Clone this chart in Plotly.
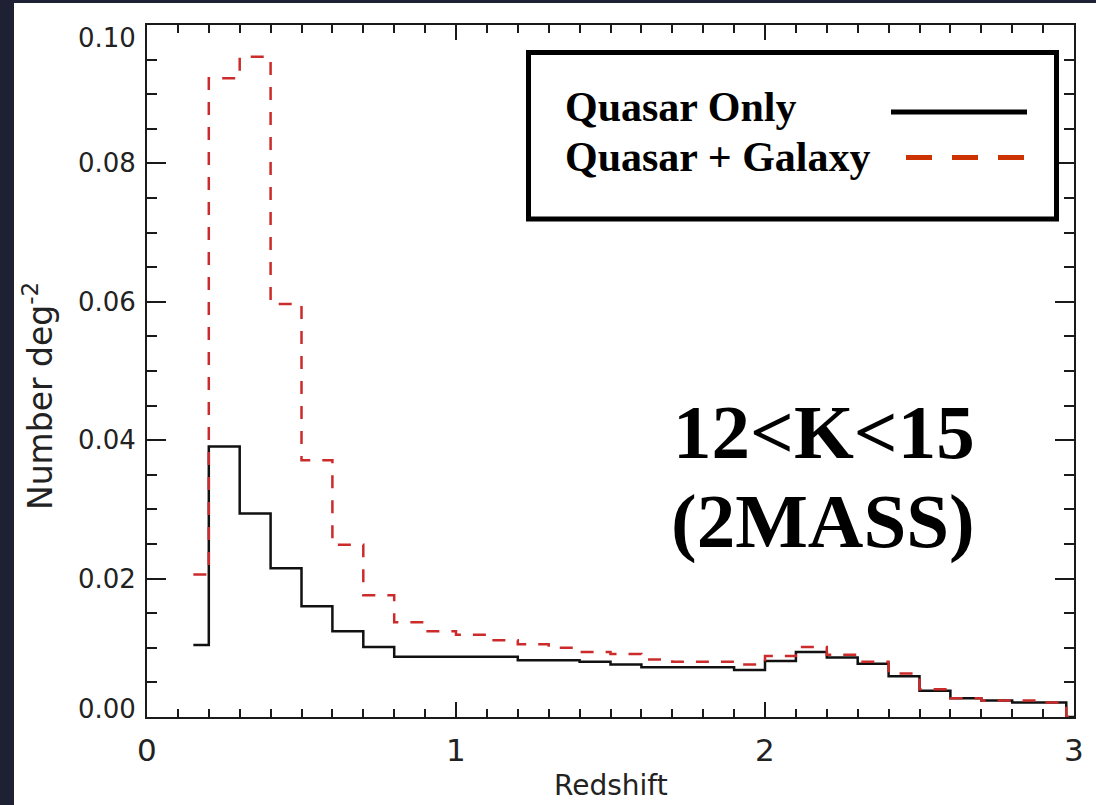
import plotly.graph_objects as go

# Redshift bin centres (bins 0.1 wide); histogram closes at z = 3
z = [0.15, 0.25, 0.35, 0.45, 0.55, 0.65, 0.75, 0.85, 0.95, 1.05,
     1.15, 1.25, 1.35, 1.45, 1.55, 1.65, 1.75, 1.85, 1.95, 2.05,
     2.15, 2.25, 2.35, 2.45, 2.55, 2.65, 2.75, 2.85, 2.95, 3.00]

# Surface density (number per square degree)
quasar_only = [0.0104, 0.0391, 0.0294, 0.0215, 0.0160, 0.0124, 0.0101, 0.0087, 0.0087, 0.0087,
               0.0087, 0.0082, 0.0082, 0.0080, 0.0076, 0.0072, 0.0072, 0.0072, 0.0068, 0.0081,
               0.0094, 0.0086, 0.0077, 0.0059, 0.0038, 0.0027, 0.0024, 0.0021, 0.0021, 0.0]

quasar_galaxy = [0.0206, 0.0923, 0.0954, 0.0597, 0.0371, 0.0249, 0.0176, 0.0137, 0.0124, 0.0119,
                 0.0111, 0.0105, 0.0100, 0.0094, 0.0091, 0.0083, 0.0080, 0.0080, 0.0076, 0.0088,
                 0.0101, 0.0090, 0.0080, 0.0063, 0.0040, 0.0027, 0.0024, 0.0024, 0.0021, 0.0]

series_names = ["Quasar Only", "Quasar + Galaxy"]
x_tick_vals = [0, 1, 2, 3]
x_tick_text = ["0", "1", "2", "3"]
y_tick_vals = [0.00, 0.02, 0.04, 0.06, 0.08, 0.10]
y_tick_text = ["0.00", "0.02", "0.04", "0.06", "0.08", "0.10"]
panel_text = ["12&lt;K&lt;15", "(2MASS)"]

# Page geometry (pixels)
W_PAGE, H_PAGE = 1096, 805
L, R, T, B = 147, 22, 25, 88
PW = W_PAGE - L - R
PH = H_PAGE - T - B


def px_x(p):
    return (p - L) / PW


def px_y(p):
    return (H_PAGE - B - p) / PH


AX = "#1a1a1a"
TICK_FONT = "DejaVu Sans"
SERIF = "Liberation Serif"
DARK = "#1e2133"

fig = go.Figure()

fig.add_trace(go.Scatter(
    x=z, y=quasar_only, mode="lines", name=series_names[0],
    line=dict(shape="hvh", color="#111111", width=2.5),
    showlegend=False, hoverinfo="skip",
))
fig.add_trace(go.Scatter(
    x=z, y=quasar_galaxy, mode="lines", name=series_names[1],
    line=dict(shape="hvh", color="#cc2b2b", width=2.5, dash="13px,12px"),
    showlegend=False, hoverinfo="skip",
))

fig.update_xaxes(
    range=[0, 3], showline=True, linecolor=AX, linewidth=2, mirror="ticks",
    ticks="inside", ticklen=15, tickwidth=2, tickcolor=AX,
    tickvals=x_tick_vals, showticklabels=False,
    minor=dict(dtick=0.1, ticks="inside", ticklen=8, tickwidth=2, tickcolor=AX),
    showgrid=False, zeroline=False,
)
fig.update_yaxes(
    range=[0, 0.10], showline=True, linecolor=AX, linewidth=2, mirror="ticks",
    ticks="inside", ticklen=19, tickwidth=2, tickcolor=AX,
    tickvals=y_tick_vals, showticklabels=False,
    minor=dict(dtick=0.005, ticks="inside", ticklen=10, tickwidth=2, tickcolor=AX),
    showgrid=False, zeroline=False,
)

annotations = []

# x tick labels
for v, t in zip(x_tick_vals, x_tick_text):
    annotations.append(dict(
        x=v, xref="x", y=px_y(750), yref="paper", text=t, showarrow=False,
        xanchor="center", yanchor="middle",
        font=dict(family=TICK_FONT, size=31, color="#222222"),
    ))

# y tick labels (end labels nudged inward)
for v, t in zip(y_tick_vals, y_tick_text):
    shift = 0
    if v == y_tick_vals[-1]:
        shift = -13
    elif v == y_tick_vals[0]:
        shift = 8
    annotations.append(dict(
        x=px_x(138), xref="paper", y=v, yref="y", text=t, showarrow=False,
        xanchor="right", yanchor="middle", yshift=shift,
        font=dict(family=TICK_FONT, size=26, color="#222222"),
    ))

# Axis titles
annotations.append(dict(
    x=px_x(611), xref="paper", y=px_y(785), yref="paper", text="Redshift",
    showarrow=False, xanchor="center", yanchor="middle",
    font=dict(family=TICK_FONT, size=28, color="#222222"),
))
annotations.append(dict(
    x=px_x(38), xref="paper", y=px_y(396), yref="paper",
    text="Number deg<sup>-2</sup>", textangle=-90,
    showarrow=False, xanchor="center", yanchor="middle",
    font=dict(family=TICK_FONT, size=33, color="#222222"),
))

# Legend entries
annotations.append(dict(
    x=px_x(563), xref="paper", y=px_y(107), yref="paper", text=series_names[0],
    showarrow=False, xanchor="left", yanchor="middle",
    font=dict(family=SERIF, size=42, color="black", weight="bold"),
))
annotations.append(dict(
    x=px_x(563), xref="paper", y=px_y(157), yref="paper", text=series_names[1],
    showarrow=False, xanchor="left", yanchor="middle",
    font=dict(family=SERIF, size=42, color="black", weight="bold"),
))

# Panel label
annotations.append(dict(
    x=px_x(824), xref="paper", y=px_y(432), yref="paper", text=panel_text[0],
    showarrow=False, xanchor="center", yanchor="middle",
    font=dict(family=SERIF, size=77, color="black", weight="bold"),
))
annotations.append(dict(
    x=px_x(823), xref="paper", y=px_y(521), yref="paper", text=panel_text[1],
    showarrow=False, xanchor="center", yanchor="middle",
    font=dict(family=SERIF, size=77, color="black", weight="bold"),
))

shapes = [
    # legend frame
    dict(type="rect", xref="paper", yref="paper",
         x0=px_x(528.5), x1=px_x(1056.5), y0=px_y(219), y1=px_y(52.5),
         line=dict(color="black", width=5), fillcolor="white", layer="above"),
    # legend samples
    dict(type="line", xref="paper", yref="paper",
         x0=px_x(891), x1=px_x(1027), y0=px_y(112), y1=px_y(112),
         line=dict(color="black", width=5)),
    dict(type="line", xref="paper", yref="paper",
         x0=px_x(906), x1=px_x(1027), y0=px_y(157.5), y1=px_y(157.5),
         line=dict(color="#cc3300", width=5, dash="26px,20px")),
    # dark page edges
    dict(type="rect", xref="paper", yref="paper",
         x0=px_x(-5), x1=px_x(14), y0=px_y(H_PAGE + 5), y1=px_y(-5),
         line=dict(width=0), fillcolor=DARK, layer="above"),
    dict(type="rect", xref="paper", yref="paper",
         x0=px_x(-5), x1=px_x(W_PAGE + 5), y0=px_y(3), y1=px_y(-5),
         line=dict(width=0), fillcolor=DARK, layer="above"),
]

fig.update_layout(
    width=W_PAGE, height=H_PAGE, autosize=False,
    margin=dict(l=L, r=R, t=T, b=B, pad=0),
    paper_bgcolor="white", plot_bgcolor="white",
    showlegend=False,
    annotations=annotations, shapes=shapes,
)

fig.write_html("out.html")
